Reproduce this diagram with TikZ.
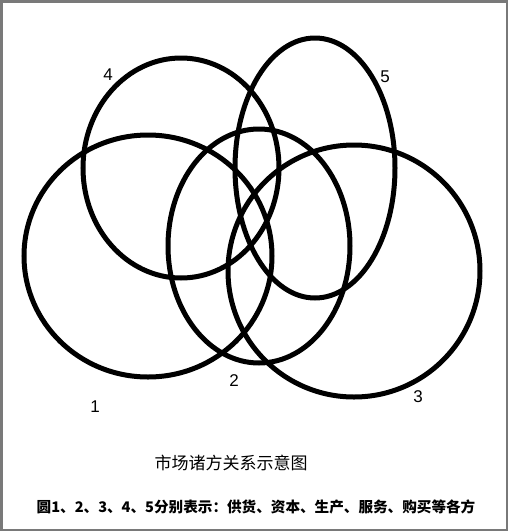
\documentclass[tikz,border=0pt]{standalone}
\usepackage{fontspec}
\setmainfont{Liberation Sans}
\newfontfamily\cjk{Noto Sans CJK SC}
\begin{document}
\begin{tikzpicture}[x=1pt,y=-1pt,
  ring/.style={draw=black, line width=5pt},
  numlabel/.style={font=\fontsize{17}{17}\selectfont, inner sep=0pt},
  titlelabel/.style={font=\cjk\fontsize{17}{17}\selectfont, inner sep=0pt},
  notelabel/.style={font=\cjk\bfseries\fontsize{14.6}{14.6}\selectfont, inner sep=0pt}]
\useasboundingbox (0,0) rectangle (508,531);
\fill[white] (0,0) rectangle (508,531);
\draw[draw=gray!95!black, line width=2.5pt] (1.25,1.25) rectangle (506.75,529.75);
% ellipses
\draw[ring] (148,256) ellipse [x radius=124pt, y radius=121pt];
\draw[ring] (259,246) ellipse [x radius=91pt, y radius=117pt];
\draw[ring] (354,271) ellipse [x radius=126pt, y radius=126pt];
\draw[ring] (181,168) ellipse [x radius=98pt, y radius=110pt];
\draw[ring] (315,168) ellipse [x radius=80pt, y radius=130pt];
% labels
\node[numlabel] (l1) at (95,407) {1};
\node[numlabel] (l2) at (234,381) {2};
\node[numlabel] (l3) at (418,397) {3};
\node[numlabel] (l4) at (108,75) {4};
\node[numlabel] (l5) at (385,77) {5};
\node[titlelabel] (title) at (231,463) {市场诸方关系示意图};
\node[notelabel] (note) at (256,507) {圆1、2、3、4、5分别表示：供货、资本、生产、服务、购买等各方};
\end{tikzpicture}
\end{document}
